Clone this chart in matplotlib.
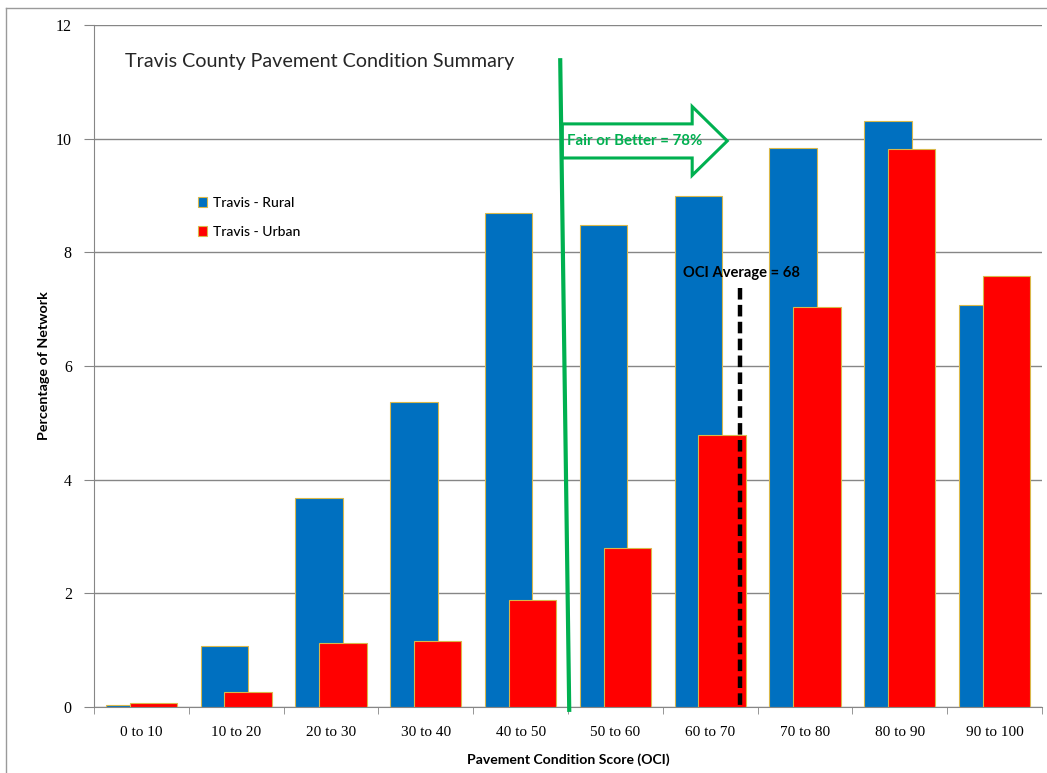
import matplotlib
matplotlib.use("Agg")
import matplotlib.pyplot as plt
import numpy as np
from matplotlib.patches import FancyArrow
from matplotlib.lines import Line2D

categories = ["0 to 10", "10 to 20", "20 to 30", "30 to 40", "40 to 50",
              "50 to 60", "60 to 70", "70 to 80", "80 to 90", "90 to 100"]
rural = [0.04, 1.07, 3.67, 5.37, 8.70, 8.48, 8.99, 9.83, 10.31, 7.07]
urban = [0.07, 0.27, 1.13, 1.16, 1.89, 2.80, 4.78, 7.03, 9.81, 7.59]
yticks = [0, 2, 4, 6, 8, 10, 12]

fig = plt.figure(figsize=(10.47, 7.73), dpi=100)
ax = fig.add_axes([94/1047, 1-707/773, 948/1047, 682/773])

x = np.arange(len(categories))
w = 0.5
edge = "#D9B84A"
ax.bar(x - 0.125, rural, width=w, color="#0070C0", edgecolor=edge, linewidth=0.8,
       label="Travis - Rural", zorder=3)
ax.bar(x + 0.125, urban, width=w, color="#FF0000", edgecolor=edge, linewidth=0.8,
       label="Travis - Urban", zorder=4)

ax.set_xlim(-0.5, len(categories) - 0.5)
ax.set_ylim(0, 12)
ax.set_yticks(yticks)
ax.set_yticklabels([str(v) for v in yticks], family="Liberation Serif", fontsize=11.5)
ax.set_xticks(x)
ax.set_xticklabels(categories, family="Liberation Serif", fontsize=11)
ax.set_xticks(np.arange(-0.5, len(categories)), minor=True)
ax.tick_params(axis="x", which="major", length=0, pad=14)
ax.tick_params(axis="x", which="minor", length=5, color="#868686", direction="out")
ax.tick_params(axis="y", length=7, color="#868686", direction="out", pad=9)
ax.yaxis.grid(True, color="#868686", linewidth=1, zorder=0)
ax.set_axisbelow(True)
for s in ["top", "right"]:
    ax.spines[s].set_visible(False)
for s in ["left", "bottom"]:
    ax.spines[s].set_color("#868686")

ax.set_xlabel("Pavement Condition Score (OCI)", family="Lato", fontweight="bold",
              fontsize=10.1, labelpad=10)
ax.set_ylabel("Percentage of Network", family="Lato", fontweight="bold",
              fontsize=10.3, labelpad=4)

# Title inside the plot
ax.text(125/1047, 1-62/773, "Travis County Pavement Condition Summary",
        transform=fig.transFigure, family="Lato", fontsize=14.2, color="#262626",
        va="center", ha="left")

# Legend
ax.legend(loc="upper left", bbox_to_anchor=(185/1047, 1-184/773),
          bbox_transform=fig.transFigure, frameon=False, handlelength=0.7,
          handleheight=0.7, handletextpad=0.4, labelspacing=1.25,
          prop={"family": "Lato", "size": 10, "weight": "medium"})

# Green "fair or better" divider line and arrow
ax.add_line(Line2D([4.418, 4.513], [11.38, -0.05], color="#00B050", linewidth=3,
                   zorder=6, clip_on=False))
arrow = FancyArrow(4.44, 9.96, 1.74, 0, width=0.6, head_width=1.21, head_length=0.37,
                   length_includes_head=True, facecolor="none", edgecolor="#00B050",
                   linewidth=2.2, zorder=6)
ax.add_patch(arrow)
ax.text(4.49, 9.96, "Fair or Better = 78%", color="#00B050", fontweight="bold",
        family="Lato", fontsize=10.8, va="center", ha="left", zorder=7)

# OCI average dashed line
ax.plot([6.318, 6.318], [7.37, 0], color="black", linewidth=3.2,
        dashes=(2.6, 1.2), zorder=6)
ax.text(6.33, 7.64, "OCI Average = 68", color="black", fontweight="bold",
        family="Lato", fontsize=10.6, va="center", ha="center", zorder=7)

# Outer frame (left and top edges visible)
fig.add_artist(Line2D([6/1047, 6/1047], [0, 1-8/773], transform=fig.transFigure,
                      color="#9a9a9a", linewidth=1))
fig.add_artist(Line2D([6/1047, 1], [1-8/773, 1-8/773], transform=fig.transFigure,
                      color="#9a9a9a", linewidth=1))

fig.savefig("out.png", dpi=100)
